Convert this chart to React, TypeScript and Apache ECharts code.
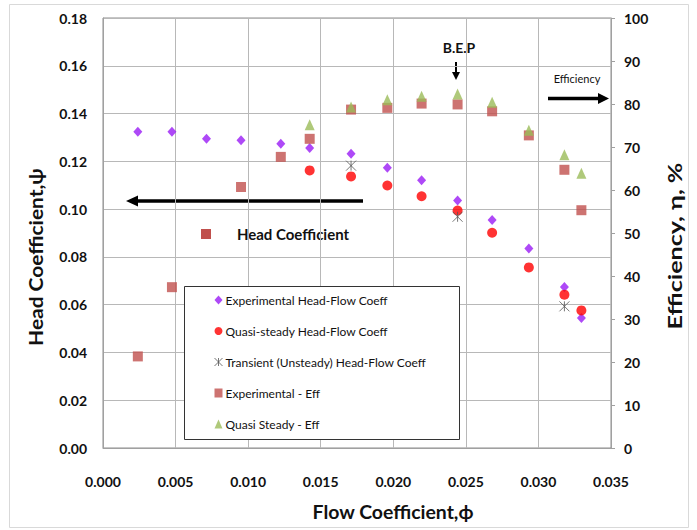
import React, { useEffect, useRef } from "react";
import * as echarts from "echarts";

const xTicks = [0, 0.005, 0.01, 0.015, 0.02, 0.025, 0.03, 0.035];

const phiExpHead = [0.0024, 0.00475, 0.00713, 0.00951, 0.01225, 0.01424, 0.01709, 0.01959, 0.02195, 0.02443, 0.02681, 0.02934, 0.03179, 0.03296];
const psiExpHead = [0.1324, 0.1324, 0.1295, 0.1288, 0.1274, 0.1256, 0.1232, 0.1173, 0.1121, 0.1036, 0.0954, 0.0835, 0.0674, 0.0544];

const phiQuasiHead = [0.01424, 0.01709, 0.01959, 0.02195, 0.02443, 0.02681, 0.02934, 0.03179, 0.03296];
const psiQuasiHead = [0.1162, 0.1137, 0.1099, 0.1054, 0.0994, 0.0901, 0.0756, 0.0642, 0.0576];

const phiTransient = [0.01709, 0.02443, 0.03179];
const psiTransient = [0.1182, 0.0968, 0.0593];

const phiExpEff = [0.0024, 0.00475, 0.00951, 0.01225, 0.01424, 0.01709, 0.01959, 0.02195, 0.02443, 0.02681, 0.02934, 0.03179, 0.03296];
const etaExpEff = [21.3, 37.4, 60.7, 67.7, 71.9, 78.7, 79.1, 80.1, 79.9, 78.3, 72.7, 64.7, 55.3];

const phiQuasiEff = [0.01424, 0.01709, 0.01959, 0.02195, 0.02443, 0.02681, 0.02934, 0.03179, 0.03296];
const etaQuasiEff = [75.2, 79.3, 81.0, 81.8, 82.3, 80.4, 73.9, 68.2, 63.9];

const seriesNames = [
  "Experimental Head-Flow Coeff",
  "Quasi-steady Head-Flow Coeff",
  "Transient (Unsteady) Head-Flow Coeff",
  "Experimental - Eff",
  "Quasi Steady - Eff",
];

const FONT = "Lato, 'Open Sans', sans-serif";
const zip = (a: number[], b: number[]) => a.map((v, i) => [v, b[i]]);

export default function App() {
  const ref = useRef<HTMLDivElement>(null);
  useEffect(() => {
    document.body.style.margin = "0";
    const chart = echarts.init(ref.current!, null, { renderer: "svg" });
    const starPath = "path://M0,0L10,10M10,0L0,10M5,0L5,10";
    const tickLabel = { color: "#111", fontFamily: FONT, fontSize: 14, fontWeight: "bold" };
    chart.setOption({
      animation: false,
      backgroundColor: "#ffffff",
      textStyle: { fontFamily: FONT },
      grid: { left: 103, right: 86, top: 18, bottom: 82, show: true, borderColor: "#8c8c8c", borderWidth: 1 },
      xAxis: {
        type: "value",
        min: xTicks[0],
        max: xTicks[xTicks.length - 1],
        interval: 0.005,
        axisLine: { show: true, lineStyle: { color: "#a0a0a0" } },
        axisTick: { show: false },
        splitLine: { show: true, lineStyle: { color: "#b8b8b8", width: 1 } },
        axisLabel: { ...tickLabel, margin: 26, formatter: (v: number) => v.toFixed(3) },
      },
      yAxis: [
        {
          type: "value",
          min: 0,
          max: 0.18,
          interval: 0.02,
          axisLine: { show: true, lineStyle: { color: "#a0a0a0" } },
          axisTick: { show: false },
          splitLine: { show: true, lineStyle: { color: "#b8b8b8", width: 1 } },
          axisLabel: { ...tickLabel, margin: 16, formatter: (v: number) => v.toFixed(2) },
        },
        {
          type: "value",
          min: 0,
          max: 100,
          interval: 10,
          position: "right",
          axisLine: { show: true, lineStyle: { color: "#a0a0a0" } },
          axisTick: { show: true, length: 4, lineStyle: { color: "#a0a0a0" } },
          splitLine: { show: false },
          axisLabel: { ...tickLabel, margin: 13 },
        },
      ],
      legend: {
        orient: "vertical",
        left: 214,
        top: 294,
        itemGap: 19,
        itemWidth: 8,
        itemHeight: 9,
        padding: 0,
        textStyle: { fontFamily: FONT, fontSize: 12, color: "#111", padding: [0, 0, 0, -2] },
        data: [
          { name: seriesNames[0] },
          { name: seriesNames[1] },
          { name: seriesNames[2], itemStyle: { borderWidth: 1, borderColor: "#555", color: "rgba(0,0,0,0)" } },
          { name: seriesNames[3] },
          { name: seriesNames[4] },
        ],
        z: 10,
      },
      series: [
        {
          name: seriesNames[0],
          type: "scatter",
          symbol: "diamond",
          symbolSize: [9, 10],
          itemStyle: { color: "#9a1cf5" },
          data: zip(phiExpHead, psiExpHead),
        },
        {
          name: seriesNames[1],
          type: "scatter",
          symbol: "circle",
          symbolSize: 10,
          itemStyle: { color: "#ff0000" },
          data: zip(phiQuasiHead, psiQuasiHead),
        },
        {
          name: seriesNames[2],
          type: "scatter",
          symbol: starPath,
          symbolSize: 10,
          itemStyle: { color: "rgba(0,0,0,0)", borderColor: "#555555", borderWidth: 1 },
          data: zip(phiTransient, psiTransient),
        },
        {
          name: seriesNames[3],
          type: "scatter",
          yAxisIndex: 1,
          symbol: "rect",
          symbolSize: 10,
          itemStyle: { color: "#c0504d" },
          data: zip(phiExpEff, etaExpEff),
        },
        {
          name: seriesNames[4],
          type: "scatter",
          yAxisIndex: 1,
          symbol: "triangle",
          symbolSize: [10, 11],
          itemStyle: { color: "#9bbb59" },
          data: zip(phiQuasiEff, etaQuasiEff),
        },
      ],
      graphic: [
        { type: "rect", z: -10, silent: true, shape: { x: 9.5, y: 4.5, width: 679, height: 523 }, style: { fill: "none", stroke: "#d9d9d9", lineWidth: 1 } },
        { type: "rect", z: 5, shape: { x: 184.5, y: 286.5, width: 275, height: 153 }, style: { fill: "#ffffff", stroke: "#333333", lineWidth: 1 } },
        // axis titles
        { type: "text", x: 35, y: 257, rotation: Math.PI / 2, scaleX: 1.1, style: { text: "Head Coefficient,ψ", fontFamily: FONT, fontSize: 19, fontWeight: "bold", fill: "#111", align: "center", verticalAlign: "middle" } },
        { type: "text", x: 675, y: 246, rotation: Math.PI / 2, scaleX: 1.32, style: { text: "Efficiency, η, %", fontFamily: FONT, fontSize: 19, fontWeight: "bold", fill: "#111", align: "center", verticalAlign: "middle" } },
        { type: "text", x: 393, y: 512, scaleX: 1.08, style: { text: "Flow Coefficient,ϕ", fontFamily: FONT, fontSize: 18, fontWeight: "bold", fill: "#111", align: "center", verticalAlign: "middle" } },
        // B.E.P annotation
        { type: "text", x: 459, y: 47, style: { text: "B.E.P", fontFamily: FONT, fontSize: 14, fontWeight: "bold", fill: "#111", align: "center", verticalAlign: "middle" } },
        { type: "line", shape: { x1: 456, y1: 62, x2: 456, y2: 73 }, style: { stroke: "#000", lineWidth: 2 } },
        { type: "polygon", shape: { points: [[452, 72], [460, 72], [456, 80]] }, style: { fill: "#000" } },
        // Efficiency annotation
        { type: "text", x: 577, y: 78, style: { text: "Efficiency", fontFamily: FONT, fontSize: 11, fill: "#111", align: "center", verticalAlign: "middle" } },
        { type: "line", shape: { x1: 548, y1: 98.5, x2: 600, y2: 98.5 }, style: { stroke: "#000", lineWidth: 3.5 } },
        { type: "polygon", shape: { points: [[598, 93], [598, 104], [609, 98.5]] }, style: { fill: "#000" } },
        // Head coefficient annotation
        { type: "line", shape: { x1: 136, y1: 201, x2: 363, y2: 201 }, style: { stroke: "#000", lineWidth: 3.5 } },
        { type: "polygon", shape: { points: [[138, 195.5], [138, 206.5], [126, 201]] }, style: { fill: "#000" } },
        { type: "rect", shape: { x: 201, y: 229, width: 10, height: 10 }, style: { fill: "#c0504d" } },
        { type: "text", x: 293, y: 234, style: { text: "Head Coefficient", fontFamily: FONT, fontSize: 15, fontWeight: "bold", fill: "#111", align: "center", verticalAlign: "middle" } },
      ],
    });
    return () => chart.dispose();
  }, []);
  return <div ref={ref} style={{ width: 697, height: 530 }} />;
}
